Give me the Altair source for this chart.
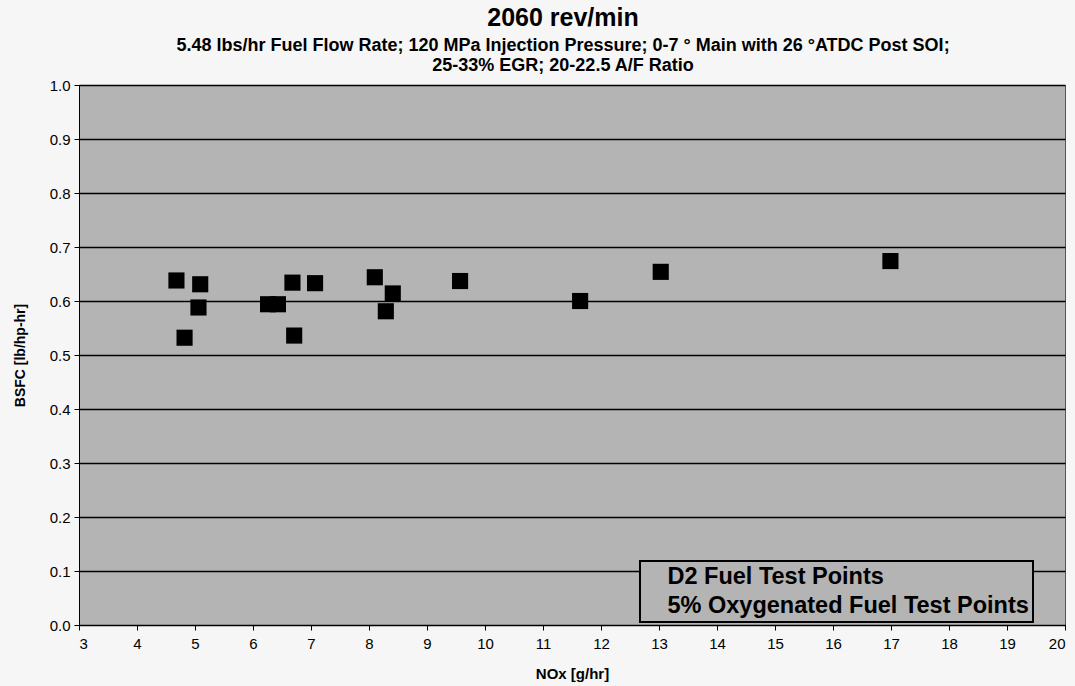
import altair as alt
import pandas as pd

# NOx [g/hr] and BSFC [lb/hp-hr]
nox = [4.68, 5.09, 5.06, 6.26, 6.43, 4.82, 6.68, 7.07, 6.71,
       8.10, 8.41, 8.29, 9.57, 11.64, 13.03, 16.99]
bsfc = [0.638, 0.631, 0.588, 0.594, 0.594, 0.532, 0.634, 0.633, 0.536,
        0.644, 0.614, 0.581, 0.637, 0.600, 0.654, 0.674]
series_names = ["D2 Fuel Test Points", "5% Oxygenated Fuel Test Points"]
series = [series_names[0]] * 8 + [series_names[1]] * 8

x_ticks = list(range(3, 21))
y_ticks = [round(i * 0.1, 1) for i in range(11)]

df = pd.DataFrame({"NOx": nox, "BSFC": bsfc, "Fuel": series})

FONT = "Liberation Sans"
PLOT_BG = "#b4b4b4"

x_enc = alt.X("NOx:Q", title="NOx [g/hr]",
              scale=alt.Scale(domain=[3, 20], nice=False, zero=False),
              axis=alt.Axis(values=x_ticks, grid=False, format="d",
                            tickColor="black", tickSize=5, domainColor="black",
                            labelFont=FONT, labelFontSize=15, labelColor="black",
                            labelPadding=6,
                            titleFont=FONT, titleFontSize=15, titleFontWeight="bold",
                            titleColor="black", titlePadding=15))
y_enc = alt.Y("BSFC:Q", title="BSFC [lb/hp-hr]",
              scale=alt.Scale(domain=[0, 1], nice=False),
              axis=alt.Axis(values=y_ticks, format=".1f", grid=True,
                            gridColor="black", gridWidth=1.5, gridOpacity=1,
                            tickColor="black", tickSize=5, domainColor="black",
                            labelFont=FONT, labelFontSize=15, labelColor="black",
                            labelPadding=4,
                            titleFont=FONT, titleFontSize=14, titleFontWeight="bold",
                            titleColor="black", titlePadding=22))
color_scale = alt.Scale(domain=series_names, range=["black", "black"])

points = alt.Chart(df).mark_square(size=260, opacity=1).encode(
    x=x_enc, y=y_enc,
    color=alt.Color("Fuel:N", scale=color_scale,
                    legend=alt.Legend(title=None, orient="none", legendX=561, legendY=476,
                                      fillColor=PLOT_BG, strokeColor="black",
                                      padding=4,
                                      symbolSize=1, symbolOpacity=0, symbolStrokeWidth=0,
                                      labelOffset=0, labelFont=FONT, labelFontSize=23.5,
                                      labelFontWeight="bold", labelColor="black",
                                      labelLimit=600, rowPadding=4)),
)

chart = points.properties(
    width=986,
    height=540,
    title=alt.TitleParams(
        text="2060 rev/min",
        subtitle=["5.48 lbs/hr Fuel Flow Rate; 120 MPa Injection Pressure; 0-7 \u00b0 Main with 26 \u00b0ATDC Post SOI;",
                  "25-33% EGR; 20-22.5 A/F Ratio"],
        font=FONT, fontSize=25, fontWeight="bold", color="black",
        subtitleFont=FONT, subtitleFontSize=18, subtitleFontWeight="bold",
        subtitleColor="black", subtitlePadding=6, subtitleLineHeight=20,
        anchor="middle", offset=3, dx=-9,
    ),
    autosize=alt.AutoSizeParams(type="none"),
    padding={"left": 79, "top": 85, "right": 10, "bottom": 61},
    background="#f6f6f6",
).configure_view(
    fill=PLOT_BG, stroke="#555555", strokeWidth=1,
).configure_legend(
    strokeWidth=2,
)

chart.save("out.html", embed_options={"renderer": "svg", "actions": False})
